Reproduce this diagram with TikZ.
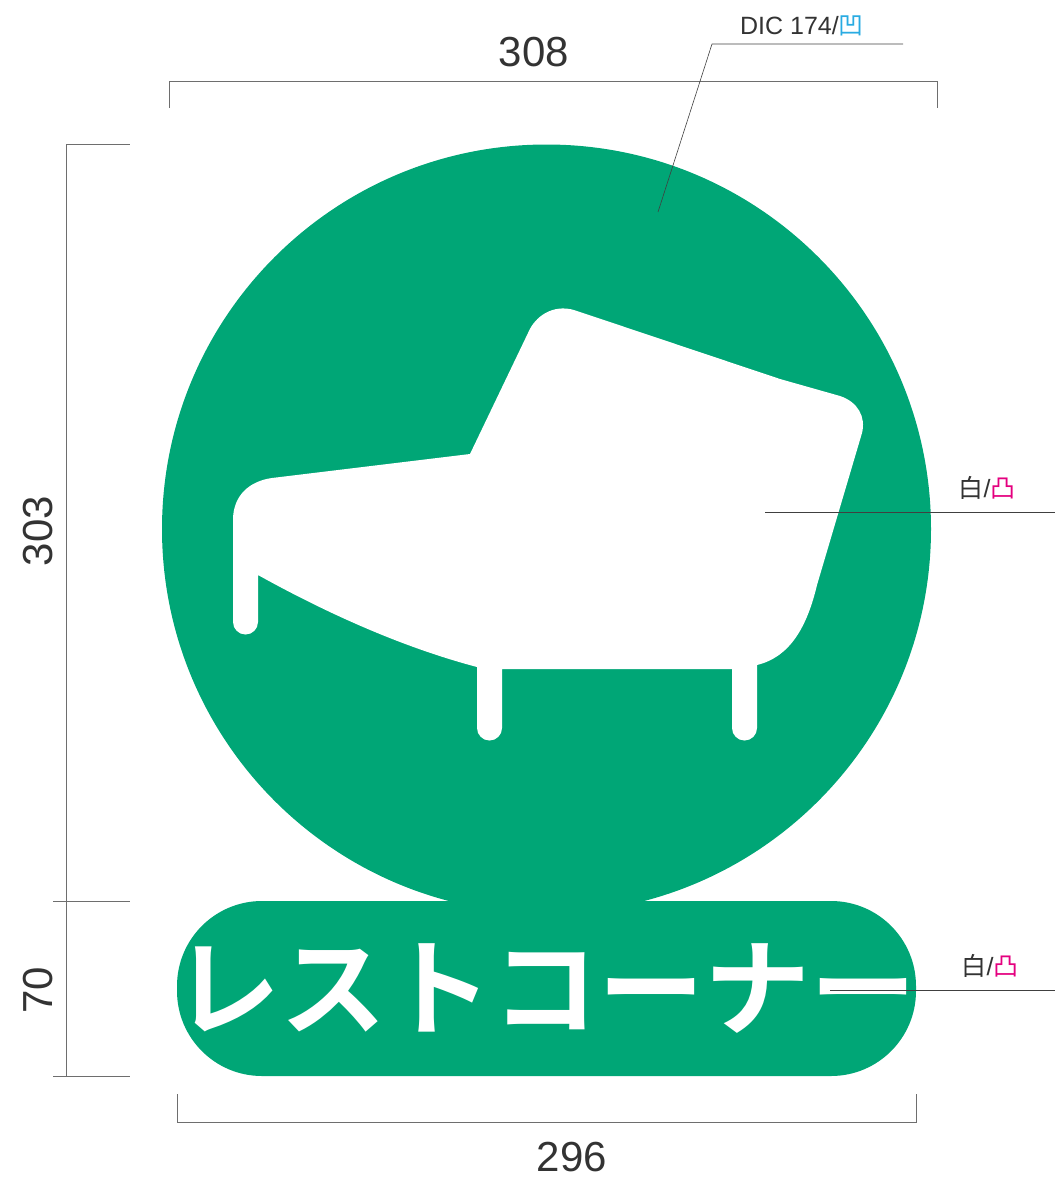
\documentclass[tikz,border=0pt]{standalone}
\usepackage{fontspec}
\setmainfont{Liberation Sans}
\newfontfamily\cjk{Noto Sans CJK JP}
\newfontfamily\cjkb{Noto Sans CJK JP Bold}
\definecolor{signgreen}{HTML}{00A676}
\definecolor{concave}{HTML}{29ABE2}
\definecolor{convex}{HTML}{E4007F}
\definecolor{dimgrey}{HTML}{6E6E6E}
\tikzset{
  dimline/.style={draw=dimgrey,line width=0.6pt},
  leader/.style={draw=black!75,line width=0.6pt},
  dimtext/.style={font=\fontsize{42}{42}\selectfont,text=black!80,inner sep=0pt},
  notetext/.style={font=\fontsize{25}{25}\selectfont,text=black!80,inner sep=0pt},
  signfill/.style={fill=signgreen,draw=none},
  sofa/.style={fill=white,draw=none}
}
\begin{document}
\begin{tikzpicture}[x=1pt,y=-1pt]
\useasboundingbox (0,0) rectangle (1055,1181);
% sign body
\fill[signfill] (546.5,529) circle[radius=384.5];
\fill[signfill,rounded corners=85pt] (177,901) rectangle (916,1076);
% sofa
\fill[sofa]
  (233,520)
  .. controls (233,495) and (250,481) .. (272,478)
  -- (470,454)
  -- (528,333)
  .. controls (535,316) and (553,304) .. (574,310)
  -- (780,379)
  -- (840,396)
  .. controls (858,402) and (866,417) .. (862,433)
  -- (817,585)
  .. controls (807,627) and (790,657) .. (757,665)
  -- (757,728) arc[start angle=0,end angle=180,radius=12.5]
  -- (732,669) -- (502,669)
  -- (502,728) arc[start angle=0,end angle=180,radius=12.5]
  -- (477,667)
  .. controls (405,648) and (330,615) .. (258,575)
  -- (258,622) arc[start angle=0,end angle=180,radius=12.5]
  -- cycle;
\node[inner sep=0pt,text=white] (title) at (545,989) {\cjkb\fontsize{106}{106}\selectfont レストコーナー};
% dimension lines
\coordinate (tl) at (169,108); \coordinate (tlc) at (169,81);
\coordinate (tr) at (937,108); \coordinate (trc) at (937,81);
\draw[dimline] (tl) -- (tlc) -- (trc) -- (tr);
\coordinate (bl) at (177,1094); \coordinate (blc) at (177,1122);
\coordinate (br) at (916,1094); \coordinate (brc) at (916,1122);
\draw[dimline] (bl) -- (blc) -- (brc) -- (br);
\coordinate (va) at (66,144); \coordinate (vb) at (66,1076);
\coordinate (ta) at (130,144); \coordinate (tb0) at (53,901); \coordinate (tb) at (130,901);
\coordinate (tc0) at (53,1076); \coordinate (tc) at (130,1076);
\draw[dimline] (va) -- (vb);
\draw[dimline] (va) -- (ta);
\draw[dimline] (tb0) -- (tb);
\draw[dimline] (tc0) -- (tc);
\node[dimtext] (d308) at (534,52) {308};
\node[dimtext] (d296) at (572,1157) {296};
\node[dimtext,rotate=90] (d303) at (38,531) {303};
\node[dimtext,rotate=90] (d70) at (38,990) {70};
% leaders
\coordinate (la) at (658,212); \coordinate (lb) at (712,44); \coordinate (lc) at (903,44);
\draw[leader] (la) -- (lb) -- (lc);
\coordinate (ma) at (765,512); \coordinate (mb) at (1055,512);
\draw[leader] (ma) -- (mb);
\coordinate (na) at (830,990); \coordinate (nb) at (1055,990);
\draw[leader] (na) -- (nb);
\node[notetext] (n1) at (802,26) {DIC 174/{\cjk\textcolor{concave}{凹}}};
\node[notetext] (n2) at (987,488) {{\cjk 白}/{\cjk\textcolor{convex}{凸}}};
\node[notetext] (n3) at (990,966) {{\cjk 白}/{\cjk\textcolor{convex}{凸}}};
\end{tikzpicture}
\end{document}
